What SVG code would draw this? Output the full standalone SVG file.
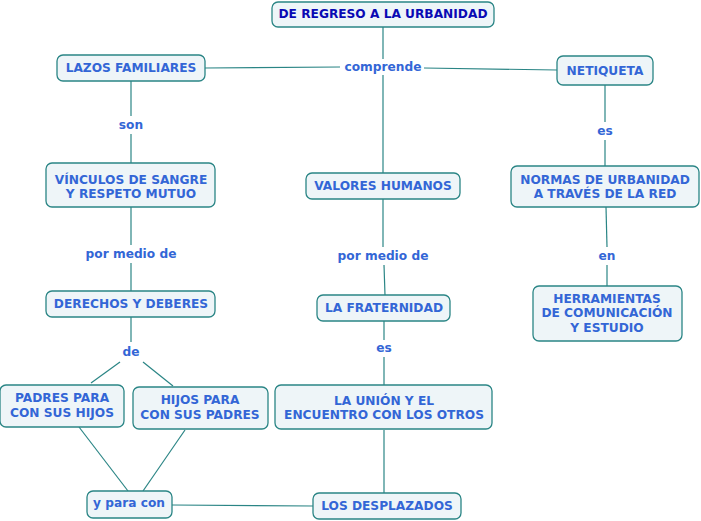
<svg xmlns="http://www.w3.org/2000/svg" width="701" height="521" viewBox="0 0 701 521">
<style>
.n rect{fill:#eef5f8;stroke:#2a8585;stroke-width:1.3}
text{font-family:"DejaVu Sans",Verdana,sans-serif;font-weight:bold;font-size:12.2px;fill:#3366d6;text-anchor:middle}
.t text{fill:#0a0ab4}
.c line{stroke:#2a8585;stroke-width:1.2}
</style>
<rect width="701" height="521" fill="#ffffff"/>
<g class="c" id="connectors">
<line x1="383" y1="27" x2="383" y2="59"/>
<line x1="383" y1="75" x2="383" y2="173"/>
<line x1="205" y1="68" x2="340" y2="67"/>
<line x1="424" y1="68" x2="557" y2="70"/>
<line x1="131" y1="81" x2="131" y2="116"/>
<line x1="131" y1="134" x2="131" y2="163"/>
<line x1="131" y1="207" x2="131" y2="245"/>
<line x1="131" y1="263" x2="131" y2="291"/>
<line x1="131" y1="317" x2="131" y2="342"/>
<line x1="120" y1="362" x2="91" y2="383"/>
<line x1="143" y1="362" x2="173" y2="386"/>
<line x1="79" y1="427" x2="128" y2="491"/>
<line x1="185" y1="430" x2="143" y2="491"/>
<line x1="172" y1="505" x2="313" y2="506"/>
<line x1="383" y1="199" x2="383" y2="247"/>
<line x1="384" y1="265" x2="385" y2="295"/>
<line x1="384" y1="321" x2="384" y2="340"/>
<line x1="384" y1="357" x2="384" y2="385"/>
<line x1="384" y1="430" x2="384" y2="493"/>
<line x1="605" y1="85" x2="605" y2="122"/>
<line x1="605" y1="140" x2="605" y2="166"/>
<line x1="606" y1="207" x2="607" y2="247"/>
<line x1="607" y1="265" x2="607" y2="286"/>
</g>
<g id="labels">
<text x="383" y="71">comprende</text>
<text x="131" y="129">son</text>
<text x="131" y="258">por medio de</text>
<text x="131" y="356">de</text>
<text x="383" y="260">por medio de</text>
<text x="384" y="352">es</text>
<text x="605" y="135">es</text>
<text x="607" y="260">en</text>
</g>
<g class="n t" id="n-title"><rect x="272" y="2" width="222" height="25" rx="6"/><text x="383" y="18">DE REGRESO A LA URBANIDAD</text></g>
<g class="n" id="n-lazos"><rect x="57" y="55" width="148" height="26" rx="6"/><text x="131" y="72">LAZOS FAMILIARES</text></g>
<g class="n" id="n-netiqueta"><rect x="557" y="56" width="96" height="29" rx="6"/><text x="605" y="75">NETIQUETA</text></g>
<g class="n" id="n-vinculos"><rect x="46" y="163" width="169" height="44" rx="6"/><text x="131" y="184">VÍNCULOS DE SANGRE</text><text x="131" y="198">Y RESPETO MUTUO</text></g>
<g class="n" id="n-valores"><rect x="306" y="173" width="154" height="26" rx="6"/><text x="383" y="190">VALORES HUMANOS</text></g>
<g class="n" id="n-normas"><rect x="511" y="166" width="188" height="41" rx="6"/><text x="605" y="184">NORMAS DE URBANIDAD</text><text x="605" y="198">A TRAVÉS DE LA RED</text></g>
<g class="n" id="n-derechos"><rect x="46" y="291" width="169" height="26" rx="6"/><text x="131" y="308">DERECHOS Y DEBERES</text></g>
<g class="n" id="n-fraternidad"><rect x="317" y="295" width="133" height="26" rx="6"/><text x="384" y="312">LA FRATERNIDAD</text></g>
<g class="n" id="n-herramientas"><rect x="533" y="286" width="149" height="55" rx="6"/><text x="607" y="303">HERRAMIENTAS</text><text x="607" y="317">DE COMUNICACIÓN</text><text x="607" y="332">Y ESTUDIO</text></g>
<g class="n" id="n-padres"><rect x="0" y="385" width="124" height="42" rx="6"/><text x="62" y="402">PADRES PARA</text><text x="62" y="417">CON SUS HIJOS</text></g>
<g class="n" id="n-hijos"><rect x="133" y="387" width="135" height="42" rx="6"/><text x="200" y="404">HIJOS PARA</text><text x="200" y="419">CON SUS PADRES</text></g>
<g class="n" id="n-union"><rect x="275" y="385" width="217" height="44" rx="6"/><text x="384" y="405">LA UNIÓN Y EL</text><text x="384" y="419">ENCUENTRO CON LOS OTROS</text></g>
<g class="n" id="n-ypara"><rect x="87" y="491" width="85" height="27" rx="6"/><text x="129" y="507">y para con</text></g>
<g class="n" id="n-desplazados"><rect x="313" y="493" width="148" height="26" rx="6"/><text x="387" y="510">LOS DESPLAZADOS</text></g>
</svg>
